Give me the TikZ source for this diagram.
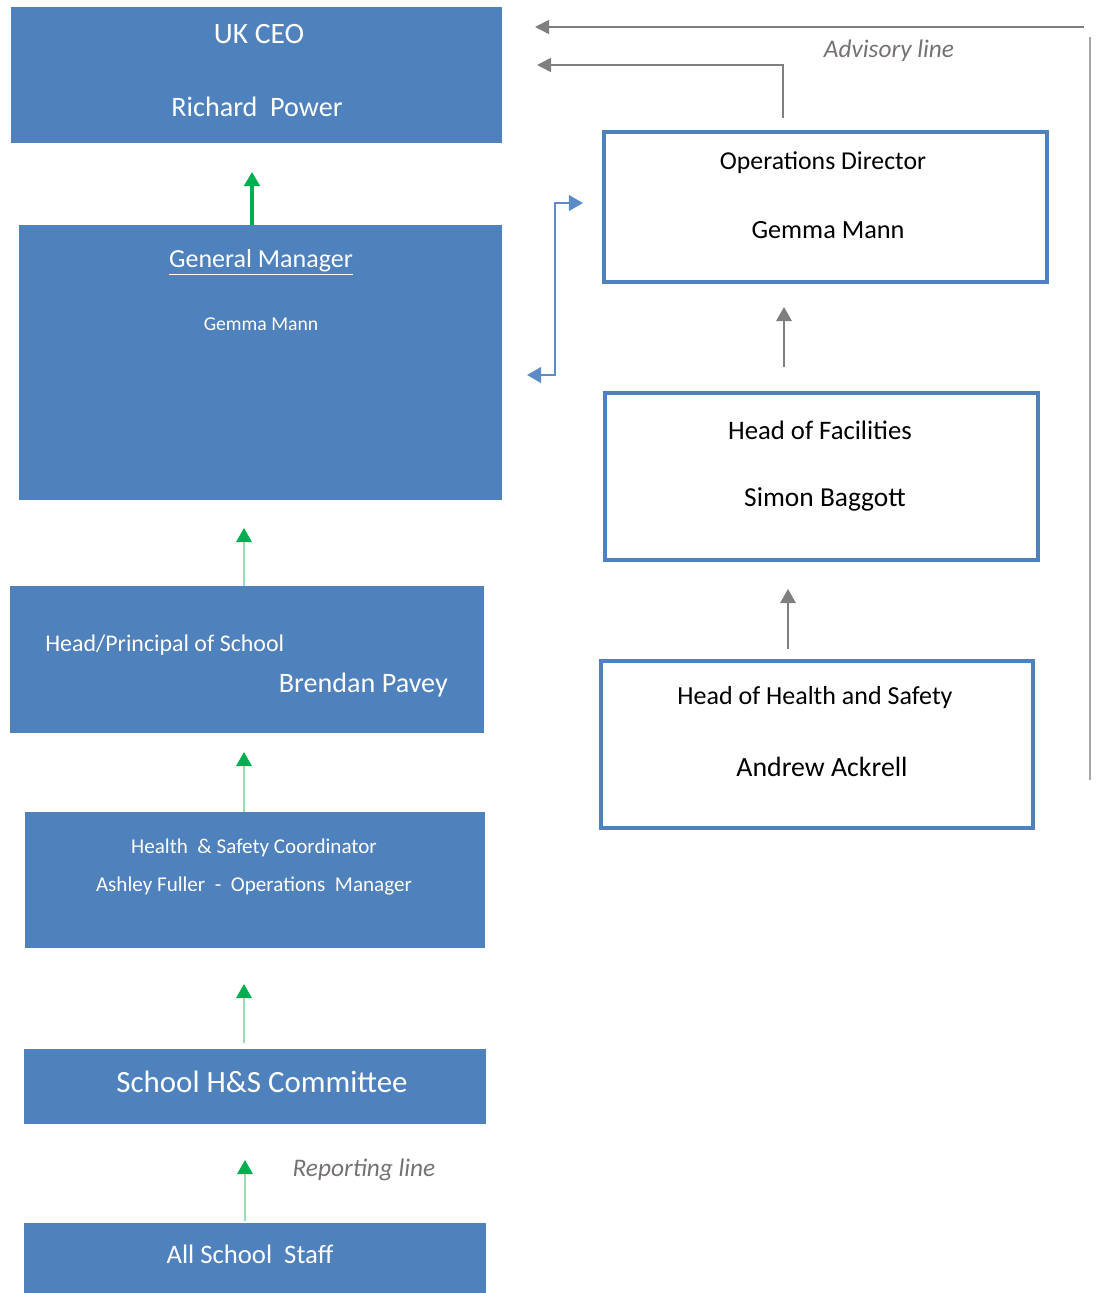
\documentclass[tikz,border=0pt]{standalone}
\usepackage{fontspec}
\setmainfont{Carlito}
\usetikzlibrary{arrows.meta,fit}

\definecolor{boxblue}{HTML}{4F81BD}
\definecolor{linkblue}{HTML}{5B8CC8}
\definecolor{repgreen}{HTML}{00B050}
\definecolor{palegreen}{HTML}{9ADDB5}
\definecolor{advgray}{HTML}{7F7F7F}
\definecolor{railgray}{HTML}{A6A6A6}
\definecolor{notegray}{HTML}{767171}

\newcommand{\fsz}[1]{\fontsize{#1}{#1}\selectfont}

\tikzset{
  bluebox/.style={fill=boxblue, draw=none, inner sep=0pt},
  whitebox/.style={draw=boxblue, line width=3pt, fill=white, inner sep=0pt},
  wtext/.style={text=white, inner sep=0pt},
  ktext/.style={text=black, inner sep=0pt},
  note/.style={text=notegray, inner sep=0pt, font=\itshape\fsz{18pt}},
  repup/.style={repgreen, line width=2.8pt, -{Triangle[length=10pt,width=11pt]}},
  paleup/.style={palegreen, line width=1.4pt, -{Triangle[length=10pt,width=11pt,color=repgreen]}},
  advup/.style={advgray, line width=1.3pt, -{Triangle[length=10pt,width=11pt]}},
  advline/.style={advgray, line width=1.1pt, -{Triangle[length=10pt,width=10pt]}},
  bluelink/.style={linkblue, line width=2pt, {Triangle[length=10pt,width=11pt]}-{Triangle[length=10pt,width=11pt]}}
}

\begin{document}
\begin{tikzpicture}[x=0.025cm, y=-0.025cm]
\useasboundingbox (0,0) rectangle (1096,1293);

% Reporting chain (left)
\node[bluebox, fit={(11,7) (502,143)}] (ceo) {};
\node[bluebox, fit={(19,225) (502,500)}] (gm) {};
\node[bluebox, fit={(10,586) (484,733)}] (head) {};
\node[bluebox, fit={(25,812) (485,948)}] (hsc) {};
\node[bluebox, fit={(24,1049) (486,1124)}] (comm) {};
\node[bluebox, fit={(24,1223) (486,1293)}] (staff) {};

\node[wtext, font=\fsz{21pt}] (ceoa) at (259,34) {UK CEO};
\node[wtext, font=\fsz{20pt}] (ceob) at (257,107) {Richard\ \ Power};
\node[wtext, font=\fsz{18.5pt}] (gma) at (261,262) {\underline{General Manager}};
\node[wtext, font=\fsz{14pt}] (gmb) at (261,324) {Gemma Mann};
\node[wtext, font=\fsz{17pt}, anchor=west] (heada) at (45,645) {Head/Principal of School};
\node[wtext, font=\fsz{20pt}, anchor=east] (headb) at (448,685) {Brendan Pavey};
\node[wtext, font=\fsz{15pt}] (hsca) at (254,848) {Health\ \ \& Safety Coordinator};
\node[wtext, font=\fsz{15pt}] (hscb) at (254,886) {Ashley Fuller\ \ -\ \ Operations\ \ Manager};
\node[wtext, font=\fsz{22pt}] (comma) at (262,1082) {School H\&S Committee};
\node[wtext, font=\fsz{19pt}] (staffa) at (250,1254) {All School\ \ Staff};

% Advisory chain (right)
\node[whitebox, fit={(604,132) (1047,282)}] (opd) {};
\node[whitebox, fit={(605,393) (1038,560)}] (fac) {};
\node[whitebox, fit={(601,661) (1033,828)}] (hs) {};

\node[ktext, font=\fsz{18.3pt}] (opda) at (823,163) {Operations Director};
\node[ktext, font=\fsz{18.7pt}] (opdb) at (828,230) {Gemma Mann};
\node[ktext, font=\fsz{19pt}] (faca) at (820,430) {Head of Facilities};
\node[ktext, font=\fsz{19.5pt}] (facb) at (825,499) {Simon Baggott};
\node[ktext, font=\fsz{18.5pt}] (hsa) at (815,698) {Head of Health and Safety};
\node[ktext, font=\fsz{19.8pt}] (hsb) at (822,767) {Andrew Ackrell};

\node[note] (advnote) at (889,51) {Advisory line};
\node[note] (repnote) at (364,1170) {Reporting line};

% Reporting arrows
\coordinate (gmtip) at (252,172);
\coordinate (headtip) at (244,528);
\coordinate (hsctip) at (244,752);
\coordinate (commtip) at (244,984);
\coordinate (stafftip) at (245,1160);
\draw[repup] (gmtip |- gm.north) -- (gmtip);
\draw[paleup] (headtip |- head.north) -- (headtip);
\draw[paleup] (hsctip |- hsc.north) -- (hsctip);
\draw[paleup] ([yshift=4pt]commtip |- comm.north) -- (commtip);
\draw[paleup] ([yshift=1pt]stafftip |- staff.north) -- (stafftip);

% Advisory arrows
\coordinate (facfoot) at (784,367);
\coordinate (factip) at (784,307);
\coordinate (hsfoot) at (788,649);
\coordinate (hstip) at (788,589);
\draw[advup] (facfoot) -- (factip);
\draw[advup] (hsfoot) -- (hstip);

\coordinate (opdfoot) at (783,118);
\coordinate (opdtip) at (537,65);
\draw[advline] (opdfoot) |- (opdtip);
\coordinate (railtop) at (1084,27);
\coordinate (railtip) at (535,27);
\draw[advline] (railtop) -- (railtip);
\draw[railgray, line width=2pt] (1090,37) -- (1090,780);

% GM <-> Operations Director
\coordinate (gmlink) at (527,375);
\coordinate (opdlink) at (583,203);
\draw[bluelink] (gmlink) -- ++(28,0) |- (opdlink);

\end{tikzpicture}
\end{document}
